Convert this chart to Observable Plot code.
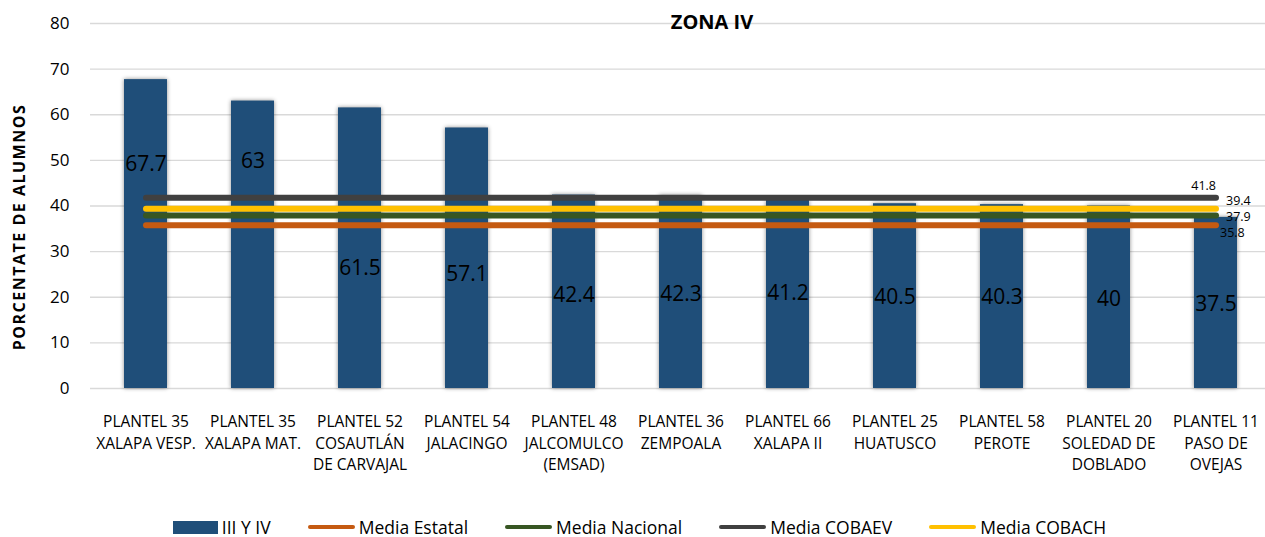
<!DOCTYPE html>
<html>
<head>
<meta charset="utf-8">
<script src="https://cdn.jsdelivr.net/npm/d3@7"></script>
<script src="https://cdn.jsdelivr.net/npm/@observablehq/plot@0.6"></script>
<style>
  html, body { margin: 0; padding: 0; background: #fff; }
  #wrap { position: relative; width: 1265px; height: 537px; font-family: "Open Sans", sans-serif; }
  #title { position: absolute; left: 0; width: 1265px; top: 8px; text-align: center; padding-left: 159px; box-sizing: border-box;
           font: bold 20px "Open Sans", sans-serif; color: #000; line-height: 28px; pointer-events: none; }
  #ylabel { position: absolute; left: 19px; top: 227px; transform: translate(-50%, -50%) rotate(-90deg); white-space: nowrap;
            font: bold 16px "Open Sans", sans-serif; letter-spacing: 1.5px; color: #000; }
  #legend { position: absolute; left: 0; top: 514px; width: 1265px; display: flex; justify-content: center; gap: 37px;
            font: 17.5px "Open Sans", sans-serif; color: #000; padding-left: 14px; box-sizing: border-box; line-height: 26px; }
  .item { display: flex; align-items: center; gap: 4px; white-space: nowrap; }
  .sw-rect { width: 45px; height: 13px; }
  .sw-line { width: 47px; height: 4px; border-radius: 2px; }
  svg g[aria-label="bar"] rect { filter: drop-shadow(0px 0px 2px rgba(0,0,0,0.45)); }
</style>
</head>
<body>
<div id="wrap">
  <div id="chart"></div>
  <div id="title"></div>
  <div id="ylabel"></div>
  <div id="legend"></div>
</div>
<script>
// ---- data ----
const categories = [
  "PLANTEL 35\nXALAPA VESP.",
  "PLANTEL 35\nXALAPA MAT.",
  "PLANTEL 52\nCOSAUTLÁN\nDE CARVAJAL",
  "PLANTEL 54\nJALACINGO",
  "PLANTEL 48\nJALCOMULCO\n(EMSAD)",
  "PLANTEL 36\nZEMPOALA",
  "PLANTEL 66\nXALAPA II",
  "PLANTEL 25\nHUATUSCO",
  "PLANTEL 58\nPEROTE",
  "PLANTEL 20\nSOLEDAD DE\nDOBLADO",
  "PLANTEL 11\nPASO DE\nOVEJAS"
];
const values = [67.7, 63, 61.5, 57.1, 42.4, 42.3, 41.2, 40.5, 40.3, 40, 37.5];
const seriesName = "III Y IV";
const meanNames = ["Media Estatal", "Media Nacional", "Media COBAEV", "Media COBACH"];
const meanValues = [35.8, 37.9, 41.8, 39.4];
const yTicks = [0, 10, 20, 30, 40, 50, 60, 70, 80];
const titleText = "ZONA IV";
const yLabelText = "PORCENTATE DE ALUMNOS";

// ---- styling / layout (not data) ----
const barColor = "#1F4E79";
const meanColors = {"Media Estatal": "#C55A11", "Media Nacional": "#375623", "Media COBAEV": "#404040", "Media COBACH": "#FFC000"};
// fraction of bar height at which each data label sits (as in the source)
const labelFrac = [0.725, 0.79, 0.43, 0.44, 0.48, 0.49, 0.505, 0.495, 0.495, 0.49, 0.49];
// draw order of mean lines (back to front) and their label offsets
const lineOrder = ["Media Estatal", "Media Nacional", "Media COBACH", "Media COBAEV"];
const meanLabelStyle = {
  "Media COBAEV": {dx: 0, dy: -12, anchor: "end"},
  "Media COBACH": {dx: 10, dy: -8, anchor: "start"},
  "Media Nacional": {dx: 10, dy: 1, anchor: "start"},
  "Media Estatal": {dx: 4, dy: 8, anchor: "start"}
};

const bars = categories.map((c, i) => ({cat: c, value: values[i], i}));
const means = meanNames.map((n, i) => ({name: n, value: meanValues[i]}));
const meanLines = lineOrder.flatMap(n => {
  const m = means.find(d => d.name === n);
  return categories.map(c => ({name: n, cat: c, value: m.value}));
});
const lastCat = categories[categories.length - 1];
const meanLabels = means.map(m => ({...m, cat: lastCat}));

const chart = Plot.plot({
  width: 1265,
  height: 500,
  marginLeft: 90,
  marginRight: 0,
  marginTop: 23,
  marginBottom: 112,
  style: {fontFamily: "'Open Sans', sans-serif", background: "transparent"},
  x: {domain: categories, range: [90, 1270], paddingInner: 0.6, paddingOuter: 0.3, label: null},
  y: {domain: [0, 80], ticks: yTicks, label: null},
  marks: [
    Plot.gridY(yTicks, {stroke: "#d9d9d9", strokeOpacity: 1, strokeWidth: 1.3}),
    Plot.axisY(yTicks, {tickSize: 0, tickPadding: 21, fontSize: 17, fill: "#000", label: null}),
    Plot.axisX({tickSize: 0, tickPadding: 24, fontSize: 15.5, lineHeight: 1.36, fill: "#000", label: null}),
    Plot.barY(bars, {x: "cat", y: "value", fill: barColor}),
    Plot.text(bars, {x: "cat", y: d => d.value * labelFrac[d.i], text: d => String(d.value), fontSize: 21, fill: "#000"}),
    Plot.line(meanLines, {x: "cat", y: "value", z: "name", stroke: d => meanColors[d.name], strokeWidth: 6, strokeLinecap: "round"}),
    ...meanLabels.map(m => Plot.text([m], {
      x: "cat", y: "value", text: d => String(d.value),
      dx: meanLabelStyle[m.name].dx, dy: meanLabelStyle[m.name].dy,
      textAnchor: meanLabelStyle[m.name].anchor, fontSize: 12.5, fill: "#000"
    }))
  ]
});
document.getElementById("chart").appendChild(chart);

document.getElementById("title").textContent = titleText;
document.getElementById("ylabel").textContent = yLabelText;

const legend = document.getElementById("legend");
const items = [{name: seriesName, color: barColor, rect: true}, ...meanNames.map(n => ({name: n, color: meanColors[n], rect: false}))];
for (const it of items) {
  const el = document.createElement("div");
  el.className = "item";
  const sw = document.createElement("span");
  sw.className = it.rect ? "sw-rect" : "sw-line";
  sw.style.background = it.color;
  const tx = document.createElement("span");
  tx.textContent = it.name;
  el.appendChild(sw); el.appendChild(tx);
  legend.appendChild(el);
}
</script>
</body>
</html>
